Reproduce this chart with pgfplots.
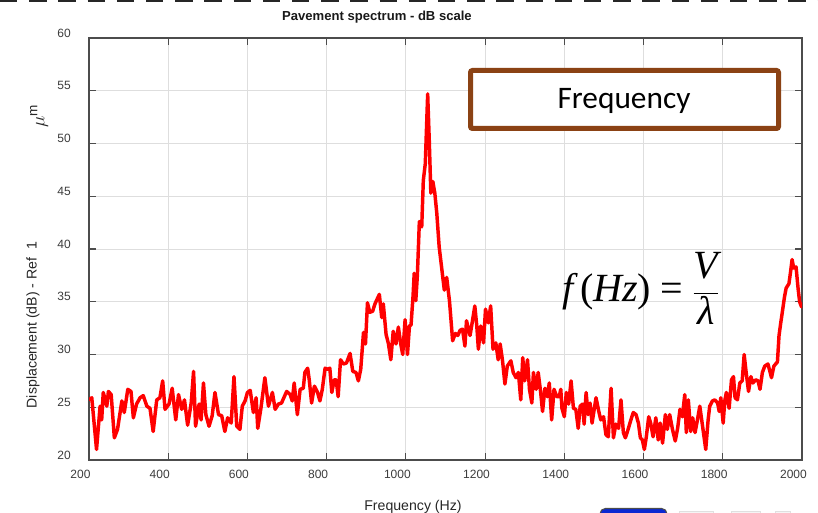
\documentclass[border=0pt]{standalone}
\usepackage{fontspec}
\setmainfont{Liberation Sans}
\newfontfamily\tnr{Liberation Serif}
\newfontfamily\carlito{Carlito}
\usepackage{pgfplots}
\pgfplotsset{compat=1.18}
\definecolor{brownbox}{RGB}{139,66,20}
\definecolor{tickgray}{RGB}{60,60,60}
\definecolor{btnblue}{RGB}{10,40,210}

\pgfplotstableread{
f v
200 25.7
207 25.9
219 21.0
228 25.1
232 23.8
236 26.4
245 25.1
249 26.5
256 26.2
264 22.1
272 22.9
283 25.6
289 24.5
298 26.7
306 26.5
312 24.0
320 25.3
329 25.9
337 26.1
346 25.1
354 24.9
362 22.7
371 25.7
379 25.9
386 27.5
392 24.8
402 25.3
410 26.8
419 23.8
426 26.2
434 24.8
441 25.7
449 23.3
458 25.4
464 28.4
469 23.2
478 25.3
483 23.8
489 27.3
495 24.3
503 23.2
511 24.2
518 26.4
527 24.3
535 24.2
543 22.7
550 24.0
559 23.5
566 27.9
573 23.2
581 22.9
587 25.1
594 25.6
600 26.4
607 26.6
615 24.5
622 25.9
626 23.0
634 24.9
644 27.8
653 25.1
663 26.4
670 24.8
678 25.3
686 25.4
699 26.5
708 26.2
713 25.6
718 27.3
726 24.3
733 26.7
741 26.8
745 28.3
752 28.7
756 27.6
762 25.4
769 27.0
777 26.4
783 25.6
789 26.7
796 28.7
802 28.6
808 28.7
813 26.4
819 27.6
824 27.6
829 26.0
835 29.5
842 29.1
850 29.2
859 30.1
866 28.4
874 28.3
880 27.5
886 28.6
893 32.1
898 31.0
903 34.9
909 34.0
916 34.1
922 34.8
928 35.3
933 35.7
939 33.5
943 34.8
950 31.9
956 31.0
962 29.5
968 32.2
975 31.0
981 32.6
987 31.0
992 30.0
998 33.3
1004 30.0
1009 32.7
1013 32.8
1018 35.5
1021 37.7
1025 35.1
1029 37.5
1034 42.6
1040 42.1
1044 46.5
1049 48.1
1055 54.7
1059 50.3
1063 45.3
1068 46.4
1073 45.3
1078 43.4
1084 40.2
1091 38.0
1097 36.1
1103 37.3
1110 35.1
1118 31.3
1125 32.0
1131 31.8
1137 32.3
1143 32.4
1149 30.8
1153 33.2
1162 31.8
1166 32.7
1174 34.6
1179 32.7
1183 30.5
1189 32.7
1196 31.1
1201 34.3
1208 33.0
1214 34.6
1220 30.5
1227 31.1
1233 29.5
1238 31.0
1244 29.4
1250 27.2
1256 28.9
1265 29.4
1271 28.3
1278 27.8
1284 28.3
1290 25.7
1295 29.7
1300 27.5
1307 29.5
1312 26.7
1318 25.4
1322 28.3
1329 26.7
1334 28.3
1340 26.5
1345 24.6
1351 26.8
1357 26.0
1362 27.3
1368 23.8
1374 26.7
1381 26.0
1387 26.0
1391 26.7
1394 24.9
1400 24.1
1405 26.4
1411 25.3
1417 27.5
1423 24.9
1429 24.8
1435 23.0
1440 25.1
1446 25.3
1450 23.4
1455 26.4
1460 24.3
1465 25.4
1470 23.5
1480 25.9
1487 24.6
1492 23.8
1499 24.1
1505 22.4
1511 22.2
1518 26.8
1524 22.1
1530 23.4
1537 23.0
1543 25.7
1549 22.6
1554 22.1
1561 22.9
1568 23.8
1574 24.5
1581 24.3
1587 23.5
1592 22.1
1597 21.9
1602 21.0
1607 22.2
1613 24.1
1618 23.5
1624 22.2
1631 24.0
1637 21.9
1642 23.5
1648 21.6
1655 24.3
1660 22.9
1666 24.3
1673 22.9
1680 21.8
1686 23.0
1692 24.8
1698 24.1
1704 26.2
1708 22.6
1713 25.7
1719 22.7
1724 24.0
1730 22.6
1736 23.8
1742 25.1
1749 23.2
1757 21.0
1763 23.8
1767 25.1
1774 25.6
1780 25.7
1787 25.4
1791 24.6
1795 25.9
1801 23.5
1805 25.6
1809 26.4
1816 24.9
1822 27.6
1827 27.9
1831 25.9
1837 25.7
1843 27.3
1849 27.5
1854 30.0
1859 28.3
1865 26.5
1871 27.9
1876 27.3
1883 27.6
1889 27.5
1894 26.7
1900 28.3
1906 28.9
1914 29.1
1919 28.4
1923 27.8
1929 28.9
1938 29.3
1942 31.8
1946 32.9
1951 34.2
1956 35.5
1960 36.3
1967 36.7
1971 37.8
1975 39.0
1979 38.2
1985 38.3
1990 36.3
1994 35.0
1999 34.5
}\spectrum

\begin{document}
\begin{tikzpicture}
\useasboundingbox (0,0) rectangle (613.5pt,384.75pt);
\begin{axis}[
  at={(66.75pt,39.75pt)}, anchor=south west,
  scale only axis, width=534.75pt, height=316.5pt,
  xmin=200, xmax=2000, ymin=20, ymax=60,
  xtick={200,400,...,2000}, ytick={20,25,...,60},
  scaled ticks=false,
  /pgf/number format/1000 sep={},
  /pgf/number format/assume math mode=true,
  grid=major,
  major grid style={draw=black!13, line width=0.6pt},
  axis line style={draw=black!70, line width=1pt},
  tick style={draw=black!70, line width=0.8pt},
  major tick length=5pt,
  tick align=inside,
  xticklabel style={font=\fontsize{9}{10}\selectfont, text=tickgray, inner sep=0pt, anchor=north, yshift=-7.5pt, xshift=-6.4pt},
  yticklabel style={font=\fontsize{9}{10}\selectfont, text=tickgray, inner sep=0pt, anchor=east, xshift=-13.5pt, yshift=3.75pt},
]
\addplot[color=red, line width=2.6pt, line join=round, line cap=round] table[x=f, y=v] {\spectrum};
\end{axis}
\begin{scope}[x=0.75pt, y=-0.75pt, shift={(0pt,384.75pt)}]
  % top dashed line
  \draw[black!85, line width=1.6pt, dash pattern=on 13pt off 8.9pt] (0,1) -- (818,1);
  % title
  \node[font=\bfseries\fontsize{9.8}{11}\selectfont, text=black!90] at (377,17) {Pavement spectrum - dB scale};
  % y label
  \node[rotate=90, font=\fontsize{10.6}{12}\selectfont, text=black!85] at (33,325) {Displacement (dB) - Ref\ \ 1};
  \node[rotate=90, font=\fontsize{14.5}{16}\selectfont, text=black!85] at (39,116) {$\mu^{\mathrm{m}}$};
  % x label
  \node[anchor=base, font=\fontsize{10.6}{12}\selectfont, text=black!85] at (413,511) {Frequency (Hz)};
  % Frequency box
  \draw[brownbox, line width=3.75pt, fill=white, rounded corners=1.5pt] (470.5,70.5) rectangle (778.5,128.5);
  \node[font=\carlito\fontsize{23.5}{26}\selectfont] at (624,101) {Frequency};
  % formula
  \node[font=\tnr\fontsize{30}{33}\selectfont] at (641,288.5)
    {$\displaystyle \mbox{\itshape f\,}\mbox{(}\mbox{\itshape Hz}\mbox{)}\mathrel{\mbox{=}}\frac{\mbox{\itshape V}}{\mbox{\itshape λ}}$};
  % bottom buttons (partially visible)
  \draw[black!70, fill=btnblue, line width=0.8pt, rounded corners=4pt] (600,508.5) rectangle (667,530);
  \draw[black!12, fill=black!4, line width=0.6pt] (679,511) rectangle (713,530);
  \draw[black!12, fill=black!4, line width=0.6pt] (731,511) rectangle (760,530);
  \draw[black!12, fill=black!4, line width=0.6pt] (775,511) rectangle (790,530);
\end{scope}
\end{tikzpicture}
\end{document}
